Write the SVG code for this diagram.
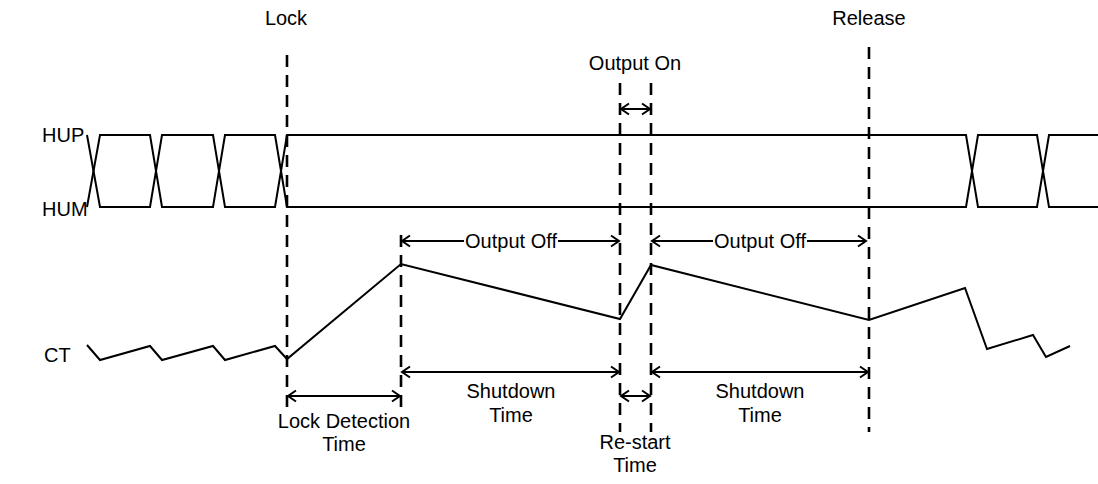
<svg xmlns="http://www.w3.org/2000/svg" width="1098" height="484" viewBox="0 0 1098 484">
  <style>
    .sig { fill: none; stroke: #000; stroke-width: 2; stroke-linejoin: miter; }
    .dash { fill: none; stroke: #000; stroke-width: 2.6; stroke-dasharray: 12 8; }
    .arr { fill: none; stroke: #000; stroke-width: 2; marker-end: url(#head); marker-start: url(#head); }
    .arr1 { fill: none; stroke: #000; stroke-width: 2; }
    text { font-family: "Liberation Sans", Arial, sans-serif; font-size: 20px; fill: #000; }
    .c { text-anchor: middle; }
  </style>
  <defs>
    <marker id="head" viewBox="-10 -7 12 14" markerWidth="12" markerHeight="14" refX="0" refY="0" markerUnits="userSpaceOnUse" orient="auto-start-reverse">
      <path d="M-8,-5.5 L0,0 L-8,5.5" fill="none" stroke="#000" stroke-width="2"/>
    </marker>
  </defs>

  <!-- signal names -->
  <g id="labels">
    <text x="42" y="142">HUP</text>
    <text x="42" y="216">HUM</text>
    <text x="44" y="362">CT</text>
  </g>

  <!-- HUP / HUM differential hall signal -->
  <g id="hall">
    <path class="sig" d="M87,135 L100,207 H150 L162,135 H213 L225,207 H275 L287,135 H966 L978,207 H1037 L1049,135 H1098"/>
    <path class="sig" d="M87,207 L100,135 H150 L162,207 H213 L225,135 H275 L287,207 H966 L978,135 H1037 L1049,207 H1098"/>
  </g>

  <!-- CT capacitor voltage -->
  <g id="ct">
    <polyline class="sig" points="87,345 100,360 150,346 162,360 213,346 225,360 275,346 287,359 401,264 620,319 651,265 869,320 965,288 987,349 1033,335 1046,357 1070,346"/>
  </g>

  <!-- event markers -->
  <g id="lock">
    <text class="c" x="286" y="25">Lock</text>
    <line class="dash" x1="287" y1="55" x2="287" y2="410"/>
  </g>
  <g id="release">
    <text class="c" x="869" y="25">Release</text>
    <line class="dash" x1="869" y1="47" x2="869" y2="432"/>
  </g>
  <g id="lock-detect">
    <line class="dash" x1="401" y1="235" x2="401" y2="410"/>
  </g>
  <g id="restart">
    <text class="c" x="635" y="70">Output On</text>
    <line class="dash" x1="620" y1="83" x2="620" y2="432"/>
    <line class="dash" x1="651" y1="83" x2="651" y2="432"/>
  </g>

  <!-- interval dimensions -->
  <g id="connectors">
    <line class="arr" x1="621" y1="109" x2="650" y2="109"/>
    <line class="arr1" x1="464" y1="241" x2="402" y2="241" marker-end="url(#head)"/>
    <line class="arr1" x1="558" y1="241" x2="619" y2="241" marker-end="url(#head)"/>
    <line class="arr1" x1="713" y1="241" x2="652" y2="241" marker-end="url(#head)"/>
    <line class="arr1" x1="807" y1="241" x2="866" y2="241" marker-end="url(#head)"/>
    <line class="arr" x1="402" y1="372" x2="619" y2="372"/>
    <line class="arr" x1="652" y1="372" x2="868" y2="372"/>
    <line class="arr" x1="288" y1="396" x2="400" y2="396"/>
    <line class="arr" x1="621" y1="396" x2="650" y2="396"/>
  </g>

  <g id="interval-labels">
    <text class="c" x="511" y="248">Output Off</text>
    <text class="c" x="760" y="248">Output Off</text>
    <text class="c" x="511" y="398">Shutdown</text>
    <text class="c" x="511" y="422">Time</text>
    <text class="c" x="760" y="398">Shutdown</text>
    <text class="c" x="760" y="422">Time</text>
    <text class="c" x="344" y="428">Lock Detection</text>
    <text class="c" x="344" y="451">Time</text>
    <text class="c" x="635" y="449">Re-start</text>
    <text class="c" x="635" y="472">Time</text>
  </g>
</svg>
